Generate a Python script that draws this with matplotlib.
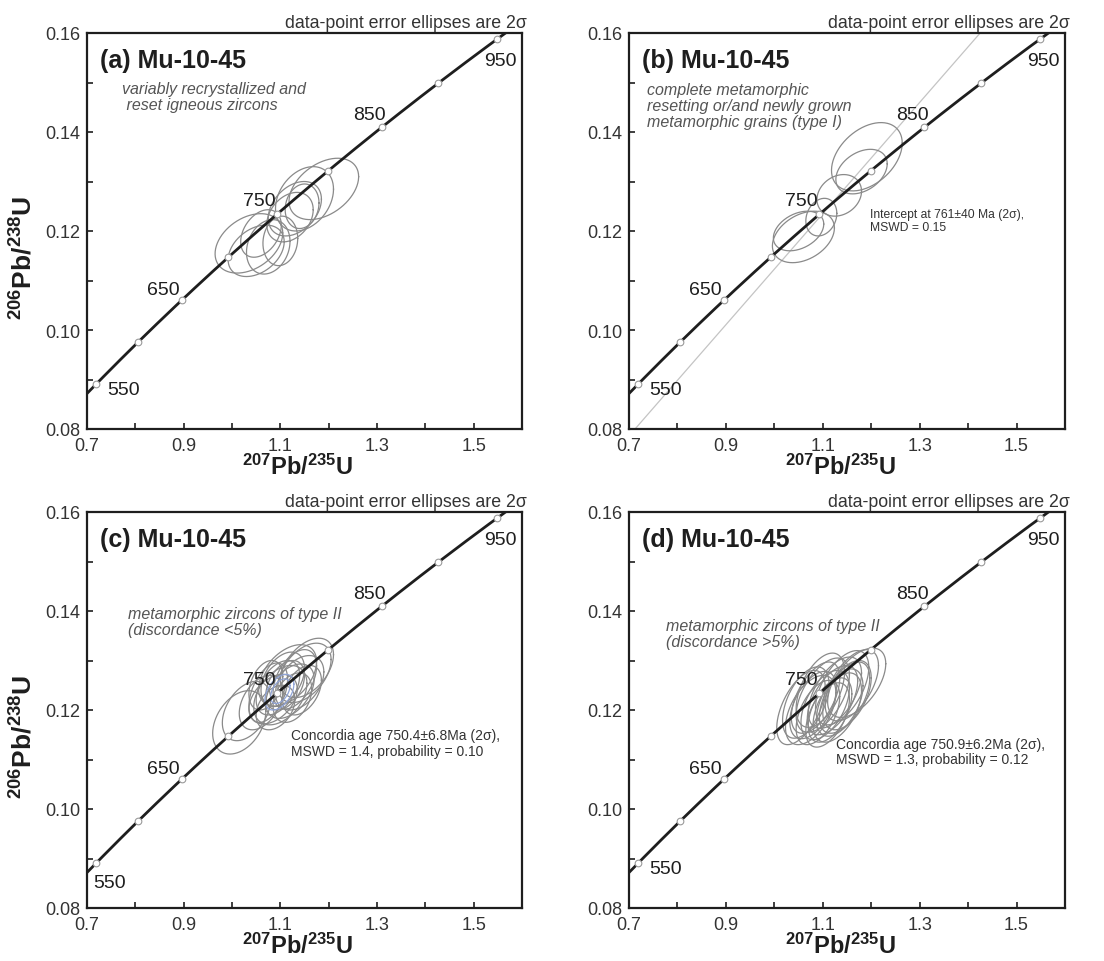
import numpy as np
import matplotlib
matplotlib.use("Agg")
import matplotlib.pyplot as plt

plt.rcParams['font.family'] = ['Liberation Sans', 'DejaVu Sans']
plt.rcParams['mathtext.fontset'] = 'custom'
plt.rcParams['mathtext.rm'] = 'Liberation Sans'
plt.rcParams['mathtext.bf'] = 'Liberation Sans:bold'
plt.rcParams['mathtext.it'] = 'Liberation Sans:italic'

# decay constants (1/yr)
L238 = 1.55125e-10
L235 = 9.8485e-10

marker_ages = [550, 600, 650, 700, 750, 800, 850, 900, 950]
label_ages = [550, 650, 750, 850, 950]
x_ticks = [0.7, 0.9, 1.1, 1.3, 1.5]
x_minor = [0.8, 1.0, 1.2, 1.4, 1.6]
y_ticks = [0.08, 0.10, 0.12, 0.14, 0.16]
y_minor = [0.09, 0.11, 0.13, 0.15]

# error ellipses: 207Pb/235U, 206Pb/238U, 2-sigma half widths, correlation
a_x = [1.035, 1.050, 1.075, 1.060, 1.100, 1.130, 1.150, 1.190, 1.145, 1.120]
a_y = [0.1175, 0.1160, 0.1168, 0.1195, 0.1180, 0.1245, 0.1265, 0.1285, 0.1250, 0.1228]
a_sx = [0.070, 0.058, 0.045, 0.042, 0.036, 0.055, 0.060, 0.072, 0.035, 0.048]
a_sy = [0.0060, 0.0052, 0.0055, 0.0048, 0.0050, 0.0055, 0.0065, 0.0062, 0.0045, 0.0050]
a_rho = [0.35, 0.35, 0.2, 0.35, 0.1, 0.35, 0.3, 0.4, 0.15, 0.3]

b_x = [1.191, 1.180, 1.134, 1.097, 1.060, 1.050]
b_y = [0.1350, 0.1320, 0.1272, 0.1228, 0.1188, 0.1200]
b_sx = [0.073, 0.053, 0.046, 0.032, 0.064, 0.052]
b_sy = [0.0069, 0.0045, 0.0042, 0.0038, 0.0052, 0.0040]
b_rho = [0.4, 0.35, 0.2, 0.2, 0.35, 0.35]
b_intercepts = [0, 761]

c_x = [1.015, 1.030, 1.060, 1.075, 1.085, 1.095, 1.100, 1.110, 1.120, 1.130,
       1.140, 1.150, 1.155, 1.090, 1.105, 1.125, 1.070, 1.145, 1.115]
c_y = [0.1175, 0.1198, 0.1215, 0.1235, 0.1222, 0.1245, 0.1230, 0.1250, 0.1238, 0.1262,
       0.1255, 0.1275, 0.1285, 0.1205, 0.1262, 0.1225, 0.1250, 0.1240, 0.1270]
c_sx = [0.055, 0.050, 0.045, 0.040, 0.050, 0.045, 0.055, 0.040, 0.050, 0.045,
        0.050, 0.055, 0.055, 0.040, 0.045, 0.040, 0.035, 0.040, 0.060]
c_sy = [0.0064, 0.0060, 0.0055, 0.0060, 0.0050, 0.0055, 0.0060, 0.0050, 0.0055, 0.0060,
        0.0055, 0.0060, 0.0060, 0.0045, 0.0055, 0.0050, 0.0050, 0.0050, 0.0062]
c_rho = [0.35, 0.4, 0.4, 0.45, 0.4, 0.45, 0.4, 0.4, 0.45, 0.45,
         0.4, 0.45, 0.45, 0.35, 0.4, 0.35, 0.35, 0.4, 0.45]
c_age_x = [1.098, 1.100]
c_age_y = [0.1236, 0.1238]
c_age_sx = [0.030, 0.020]
c_age_sy = [0.0036, 0.0025]

d_x = [1.055, 1.065, 1.075, 1.085, 1.090, 1.100, 1.105, 1.110, 1.120, 1.125,
       1.135, 1.140, 1.150, 1.160, 1.170, 1.095, 1.115, 1.130, 1.080, 1.145]
d_y = [0.1205, 0.1215, 0.1200, 0.1225, 0.1195, 0.1230, 0.1210, 0.1190, 0.1220, 0.1235,
       0.1215, 0.1245, 0.1230, 0.1250, 0.1255, 0.1240, 0.1200, 0.1205, 0.1210, 0.1225]
d_sx = [0.050, 0.048, 0.052, 0.050, 0.045, 0.055, 0.050, 0.045, 0.052, 0.055,
        0.048, 0.055, 0.050, 0.055, 0.060, 0.050, 0.045, 0.050, 0.048, 0.052]
d_sy = [0.0075, 0.0072, 0.0070, 0.0072, 0.0065, 0.0075, 0.0070, 0.0065, 0.0070, 0.0072,
        0.0068, 0.0075, 0.0070, 0.0072, 0.0070, 0.0075, 0.0065, 0.0070, 0.0068, 0.0072]
d_rho = [0.55, 0.5, 0.5, 0.55, 0.5, 0.55, 0.5, 0.5, 0.55, 0.55,
         0.5, 0.55, 0.5, 0.55, 0.55, 0.5, 0.5, 0.5, 0.5, 0.55]


def concordia(ages):
    t = np.asarray(ages, dtype=float) * 1e6
    return np.exp(L235 * t) - 1, np.exp(L238 * t) - 1


def ellipse(ax, cx, cy, sx, sy, rho, color='#8a8a8a', lw=0.9):
    t = np.linspace(0, 2 * np.pi, 200)
    x = cx + sx * np.cos(t)
    y = cy + sy * (rho * np.cos(t) + np.sqrt(1 - rho ** 2) * np.sin(t))
    ax.plot(x, y, color=color, lw=lw, zorder=2)


W, H = 1104, 962
fig = plt.figure(figsize=(W / 100, H / 100), dpi=100)


def make_axes(left, top, right, bottom):
    return fig.add_axes([left / W, 1 - bottom / H, (right - left) / W, (bottom - top) / H])


boxes = [(87, 34, 522, 430), (629, 34, 1065, 430), (87, 513, 522, 909), (629, 513, 1065, 909)]
letters = ['a', 'b', 'c', 'd']
notes = ["variably recrystallized and\n reset igneous zircons",
         "complete metamorphic\nresetting or/and newly grown\nmetamorphic grains (type I)",
         "metamorphic zircons of type II\n(discordance <5%)",
         "metamorphic zircons of type II\n(discordance >5%)"]
note_pos = [(0.772, 0.1503), (0.737, 0.1500), (0.785, 0.1410), (0.777, 0.1385)]
ellipse_sets = [(a_x, a_y, a_sx, a_sy, a_rho), (b_x, b_y, b_sx, b_sy, b_rho),
                (c_x, c_y, c_sx, c_sy, c_rho), (d_x, d_y, d_sx, d_sy, d_rho)]
results = [None,
           ("Intercept at 761\u00b140 Ma (2\u03c3),\nMSWD = 0.15", (1.197, 0.1247), 8.7),
           ("Concordia age 750.4\u00b16.8Ma (2\u03c3),\nMSWD = 1.4, probability = 0.10", (1.123, 0.1163), 10),
           ("Concordia age 750.9\u00b16.2Ma (2\u03c3),\nMSWD = 1.3, probability = 0.12", (1.127, 0.1146), 10)]

# offsets in points for age labels
label_style = {550: ('left', 'center', (8, -4)),
               650: ('right', 'bottom', (-2, 1)),
               750: ('right', 'bottom', (-1, 4)),
               850: ('right', 'bottom', (3, 3)),
               950: ('center', 'top', (2, -9))}

curve_x, curve_y = concordia(np.linspace(450, 1050, 400))
mx, my = concordia(marker_ages)

for i, ax in enumerate([make_axes(*b) for b in boxes]):
    ax.set_xlim(0.7, 1.6)
    ax.set_ylim(0.08, 0.16)

    if i == 1:
        dx, dy = concordia(b_intercepts)
        ax.axline((dx[0], dy[0]), (dx[1], dy[1]), color='#c4c4c4', lw=0.9, zorder=1)

    ex, ey, esx, esy, erho = ellipse_sets[i]
    for k in range(len(ex)):
        ellipse(ax, ex[k], ey[k], esx[k], esy[k], erho[k])
    if i == 2:
        for k in range(len(c_age_x)):
            ellipse(ax, c_age_x[k], c_age_y[k], c_age_sx[k], c_age_sy[k], 0.45,
                    color='#8fa3d6', lw=0.9)

    ax.plot(curve_x, curve_y, color='#1e1e1e', lw=2.0, zorder=3)
    ax.plot(mx, my, 'o', ms=4.8, mfc='white', mec='#9a9a9a', mew=0.8, zorder=4)

    for age in label_ages:
        lx, ly = concordia([age])
        ha, va, off = label_style[age]
        if i == 2 and age == 550:
            ha, va, off = 'left', 'top', (-2, -8)
        ax.annotate(str(age), (lx[0], ly[0]), xytext=off, textcoords='offset points',
                    ha=ha, va=va, fontsize=14, color='#1e1e1e', zorder=5)

    ax.text(0.03, 0.962, f"({letters[i]}) Mu-10-45", transform=ax.transAxes,
            fontsize=18, fontweight='bold', color='#1e1e1e', va='top', ha='left')
    ax.text(note_pos[i][0], note_pos[i][1], notes[i], fontsize=11.5, style='italic',
            color='#555555', va='top', ha='left', linespacing=1.05)
    if results[i] is not None:
        txt, (tx, ty), fs = results[i]
        ax.text(tx, ty, txt, fontsize=fs, color='#333333', va='top', ha='left',
                linespacing=1.15)

    ax.text(1.012, 1.006, "data-point error ellipses are 2\u03c3", transform=ax.transAxes,
            fontsize=12.8, color='#333333', ha='right', va='bottom')

    ax.set_xticks(x_ticks)
    ax.set_xticks(x_minor, minor=True)
    ax.set_yticks(y_ticks)
    ax.set_yticks(y_minor, minor=True)
    ax.set_xticklabels([f"{v:.1f}" for v in x_ticks])
    ax.set_yticklabels([f"{v:.2f}" for v in y_ticks])
    ax.tick_params(which='both', direction='in', length=4, width=1.2, top=False,
                   right=False, labelsize=13, labelcolor='#333333', color='#1e1e1e')
    ax.tick_params(axis='x', pad=6)
    ax.tick_params(axis='y', pad=5)
    for s in ax.spines.values():
        s.set_linewidth(1.6)
        s.set_color('#1e1e1e')

    ax.text(0.485, -0.093, r'$\mathbf{^{207}Pb/^{235}U}$', transform=ax.transAxes,
            fontsize=17, ha='center', va='center', color='#1e1e1e')
    if i in (0, 2):
        ax.text(-0.145, 0.435, r'$\mathbf{^{206}Pb/^{238}U}$', transform=ax.transAxes,
                fontsize=19, ha='center', va='center', rotation=90, color='#1e1e1e')

fig.savefig("out.png", dpi=100)
